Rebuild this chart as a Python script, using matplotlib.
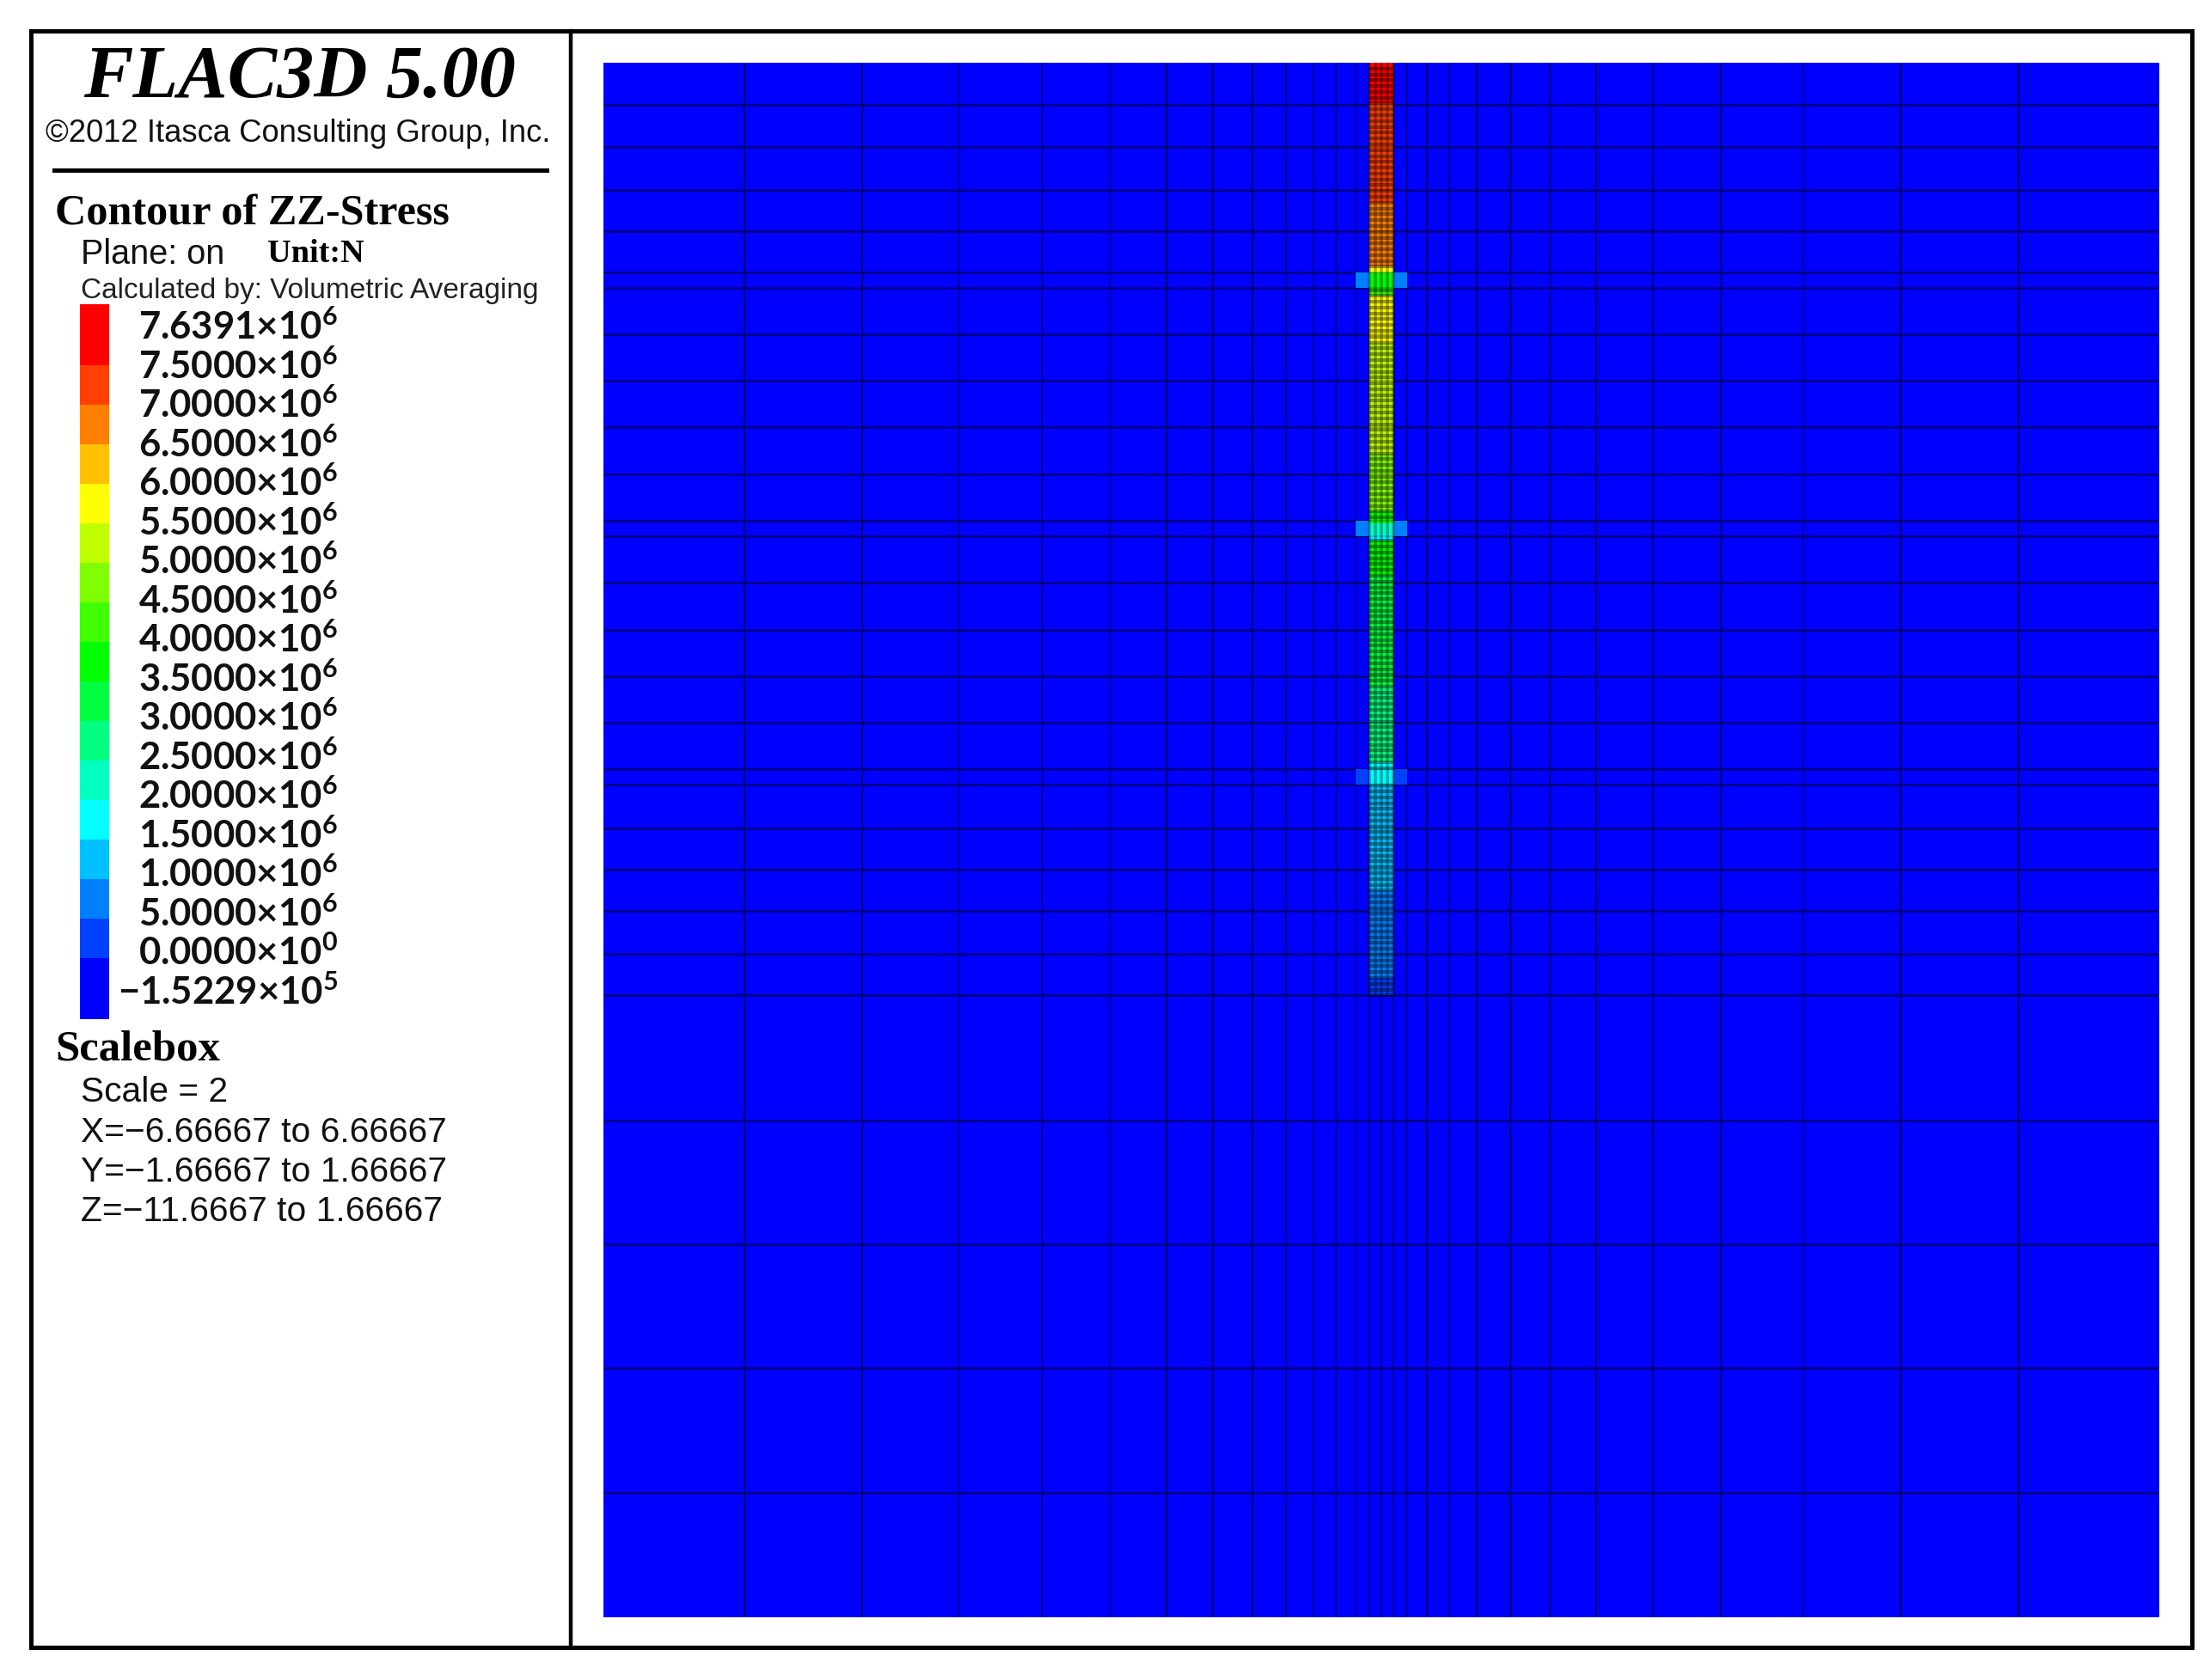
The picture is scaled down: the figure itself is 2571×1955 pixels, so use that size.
#!/usr/bin/env python
# FLAC3D ZZ-stress contour of a pile, redrawn from the screenshot

import matplotlib
matplotlib.use('Agg')
import matplotlib.pyplot as plt
from matplotlib.colors import BoundaryNorm, ListedColormap
from matplotlib.patches import Rectangle
import numpy as np

plt.rcParams['mathtext.fontset'] = 'custom'
plt.rcParams['mathtext.rm'] = 'Lato:bold'
plt.rcParams['mathtext.bf'] = 'Lato:bold'

# contour levels and their colours, low to high
LEVELS = [-1.5229e5, 0, 5e5, 1e6, 1.5e6, 2e6, 2.5e6, 3e6, 3.5e6, 4e6, 4.5e6,
          5e6, 5.5e6, 6e6, 6.5e6, 7e6, 7.5e6, 7.6391e6]
LEVEL_COLORS = ['#0000ff', '#0040ff', '#0080ff', '#00c0ff', '#00ffff',
                '#00ffc0', '#00ff80', '#00ff40', '#00ff00', '#40ff00',
                '#80ff00', '#c0ff00', '#ffff00', '#ffc000', '#ff8000',
                '#ff4000', '#ff0000']
# the typo on the 5.0000 line is in the original
LEVEL_LABELS = [r'$\mathrm{7.6391{×}10^{6}}$', r'$\mathrm{7.5000{×}10^{6}}$',
                r'$\mathrm{7.0000{×}10^{6}}$', r'$\mathrm{6.5000{×}10^{6}}$',
                r'$\mathrm{6.0000{×}10^{6}}$', r'$\mathrm{5.5000{×}10^{6}}$',
                r'$\mathrm{5.0000{×}10^{6}}$', r'$\mathrm{4.5000{×}10^{6}}$',
                r'$\mathrm{4.0000{×}10^{6}}$', r'$\mathrm{3.5000{×}10^{6}}$',
                r'$\mathrm{3.0000{×}10^{6}}$', r'$\mathrm{2.5000{×}10^{6}}$',
                r'$\mathrm{2.0000{×}10^{6}}$', r'$\mathrm{1.5000{×}10^{6}}$',
                r'$\mathrm{1.0000{×}10^{6}}$', r'$\mathrm{5.0000{×}10^{6}}$',
                r'$\mathrm{0.0000{×}10^{0}}$', r'$\mathrm{{−}1.5229{×}10^{5}}$']
SWATCH_HEIGHTS = [1.54] + [1] * 15 + [1.54]

# mesh lines, model units (x from the pile axis, depth from the top of the view)
MESH_X = [0.103, 0.221, 0.39, 0.582, 0.818, 1.105, 1.444, 1.842, 2.328, 2.91,
          3.617, 4.449, 5.459]
MESH_DEPTH = [0.361, 0.722, 1.091, 1.444, 1.798, 1.931, 2.329, 2.727, 3.125,
              3.53, 3.928, 4.06, 4.458, 4.864, 5.262, 5.66, 6.057, 6.19, 6.566,
              6.92, 7.274, 7.642, 7.996, 9.071, 10.133, 11.194, 12.262]
X_LIMIT = 6.66667
DEPTH_LIMIT = 13.3333
SOIL_STRESS = -1e5

# stress down the pile: segment bottom depth, stress
PILE_HALF_WIDTH = 0.103
PILE_BOTTOM = 7.996
PILE_SEG_BOTTOM = [0.361, 1.194, 1.761, 1.798, 1.931, 2.0, 2.424, 3.368, 3.869,
                   3.928, 4.06, 4.09, 4.42, 5.357, 5.99, 6.057, 6.19, 7.096,
                   7.826, 7.996]
PILE_SEG_STRESS = [7.6e6, 7.25e6, 6.75e6, 5.75e6, 3.75e6, 4.25e6, 5.75e6,
                   5.25e6, 4.75e6, 3.75e6, 2.25e6, 1.75e6, 3.75e6, 3.25e6,
                   2.75e6, 1.75e6, 1.75e6, 1.25e6, 0.75e6, 0.25e6]

# bearing plates: top depth, bottom depth, stress
PLATE_TOP = [1.798, 3.928, 6.057]
PLATE_BOTTOM = [1.931, 4.06, 6.19]
PLATE_STRESS = [0.75e6, 0.75e6, 0.25e6]
PLATE_HALF_WIDTH = 0.221

W, H = 2571, 1955
SANS = 'Liberation Sans'
SERIF = 'Liberation Serif'


def px_axes(fig, left, top, right, bottom):
    return fig.add_axes([left / W, 1 - bottom / H, (right - left) / W, (bottom - top) / H])


def main():
    fig = plt.figure(figsize=(W / 100, H / 100), dpi=100, facecolor='white')

    # page axes in pixels for the frame and the text
    page = fig.add_axes([0, 0, 1, 1])
    page.set_xlim(0, W)
    page.set_ylim(H, 0)
    page.axis('off')
    page.add_patch(Rectangle((36, 36), 2514, 1881, fill=False, ec='black', lw=3.6))
    page.plot([664, 664], [36, 1917], color='black', lw=3.2)
    page.plot([63, 636], [198, 198], color='black', lw=3.6)

    page.text(349, 113, 'FLAC3D 5.00', family=SERIF, style='italic', weight='bold',
              fontsize=62, ha='center', va='baseline')
    page.text(53, 165, '©2012 Itasca Consulting Group, Inc.', family=SANS, fontsize=26.2,
              color='#111111', va='baseline')
    page.text(64, 260, 'Contour of ZZ-Stress', family=SERIF, weight='bold', fontsize=36.2,
              va='baseline')
    page.text(94, 307, 'Plane: on', family=SANS, fontsize=28.5, color='#111111', va='baseline')
    page.text(311, 305, 'Unit:N', family=SERIF, weight='bold', fontsize=27.5, va='baseline')
    page.text(94, 347, 'Calculated by: Volumetric Averaging', family=SANS, fontsize=24,
              color='#222222', va='baseline')
    page.text(64, 1234, 'Scalebox', family=SERIF, weight='bold', fontsize=36.5, va='baseline')
    scale_lines = ['Scale = 2', 'X=−6.66667 to 6.66667', 'Y=−1.66667 to 1.66667',
                   'Z=−11.6667 to 1.66667']
    for text, y in zip(scale_lines, [1282, 1329, 1375, 1421]):
        page.text(94, y, text, family=SANS, fontsize=29.3, color='#111111', va='baseline')

    # legend bar, equal swatches apart from the two end ones
    bar = px_axes(fig, 93, 354, 127, 1186)
    edges = np.concatenate([[0], np.cumsum(SWATCH_HEIGHTS)])
    cmap = ListedColormap(LEVEL_COLORS)
    norm = BoundaryNorm(LEVELS, cmap.N)
    centres = [(a + b) / 2 for a, b in zip(LEVELS[:-1], LEVELS[1:])]
    bar.pcolormesh([0, 1], edges, np.array(centres).reshape(-1, 1), cmap=cmap, norm=norm)
    bar.set_ylim(edges[0], edges[-1])
    bar.axis('off')

    for i, label in enumerate(LEVEL_LABELS):
        page.text(393, 395 + i * 45.53, label, fontsize=31.4, color='#111111',
                  ha='right', va='baseline')

    # model view
    ax = px_axes(fig, 702, 73, 2512, 1882)
    right = np.array([0] + MESH_X + [X_LIMIT])
    x_edges = np.concatenate([-right[:0:-1], right])
    depth_edges = np.array([0] + MESH_DEPTH + [DEPTH_LIMIT])
    soil = np.full((len(depth_edges) - 1, len(x_edges) - 1), SOIL_STRESS)
    ax.pcolormesh(x_edges, depth_edges, soil, cmap=cmap, norm=norm, zorder=1)

    # mesh first, the pile covers it
    for x in x_edges[1:-1]:
        ax.plot([x, x], [0, DEPTH_LIMIT], color='#00007a', lw=1.5, solid_capstyle='butt', zorder=2)
    for depth in MESH_DEPTH:
        ax.plot([-X_LIMIT, X_LIMIT], [depth, depth], color='#00007a', lw=1.8,
                solid_capstyle='butt', zorder=2)

    for top, bottom, stress in zip(PLATE_TOP, PLATE_BOTTOM, PLATE_STRESS):
        ax.pcolormesh([-PLATE_HALF_WIDTH, PLATE_HALF_WIDTH], [top, bottom], [[stress]],
                      cmap=cmap, norm=norm, zorder=3)

    # pile cells, about 0.05 high and four across
    rows = np.arange(0, PILE_BOTTOM + 0.01, 0.05)
    cols = np.linspace(-PILE_HALF_WIDTH, PILE_HALF_WIDTH, 5)
    mids = (rows[:-1] + rows[1:]) / 2
    idx = np.searchsorted(PILE_SEG_BOTTOM, mids).clip(0, len(PILE_SEG_STRESS) - 1)
    stress = np.array(PILE_SEG_STRESS)[idx]
    ax.pcolormesh(cols, rows, np.tile(stress.reshape(-1, 1), (1, 4)), cmap=cmap, norm=norm,
                  zorder=3)

    for depth in rows[1:]:
        in_plate = any(t < depth < b for t, b in zip(PLATE_TOP, PLATE_BOTTOM))
        if not in_plate:
            ax.plot(cols[[0, -1]], [depth, depth], color='black', alpha=0.36, lw=3,
                    solid_capstyle='butt', zorder=4)
    for x in cols:
        ax.plot([x, x], [0, PILE_BOTTOM], color='black', alpha=0.3, lw=2.6,
                solid_capstyle='butt', zorder=4)
    # the plate lines show faintly through the pile
    for depth in MESH_DEPTH:
        if depth < PILE_BOTTOM:
            ax.plot(cols[[0, -1]], [depth, depth], color='black', alpha=0.18, lw=1.5,
                    solid_capstyle='butt', zorder=4)

    ax.set_xlim(-X_LIMIT, X_LIMIT)
    ax.set_ylim(DEPTH_LIMIT, 0)
    ax.axis('off')

    fig.savefig('out.png', dpi=100)


if __name__ == "__main__":
    main()
